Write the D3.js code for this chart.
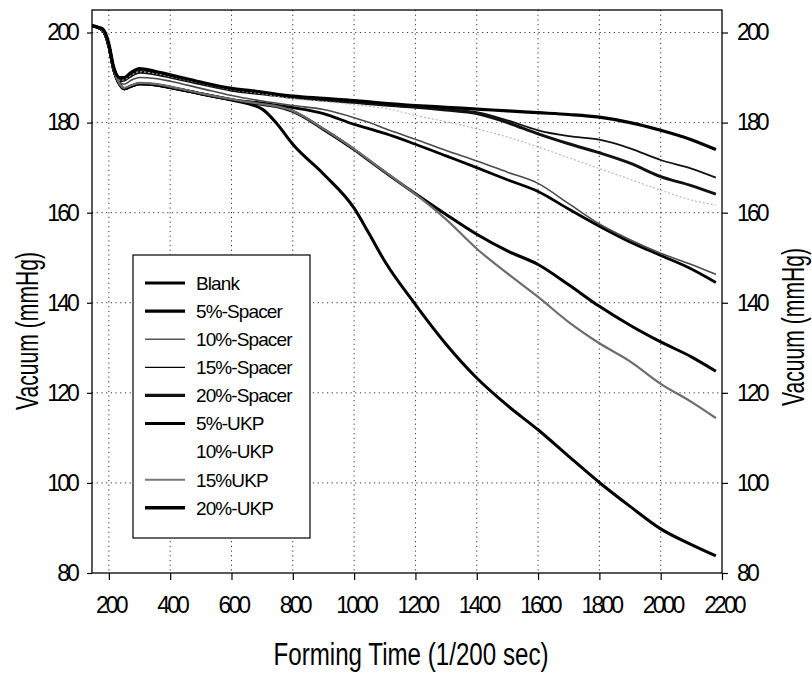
<!DOCTYPE html>
<html>
<head>
<meta charset="utf-8">
<script src="https://cdn.jsdelivr.net/npm/d3@7"></script>
<style>
    body { margin: 0; background: #fff; }
    svg { display: block; }
    .tick text { font-family: "Liberation Sans", Arial, sans-serif; font-size: 23px; letter-spacing: -2.9px; }
    .title { font-family: "Liberation Sans", Arial, sans-serif; font-size: 31px; }
    .legend text { font-family: "Liberation Sans", Arial, sans-serif; font-size: 19px; letter-spacing: -0.9px; }
</style>
</head>
<body>
<svg id="chart"></svg>
<script>
// forming time (1/200 sec)
const formingTime = [145, 180, 200, 215, 235, 250, 270, 300, 350, 400, 500, 600, 700, 750, 800,
                     900, 1000, 1050, 1100, 1200, 1300, 1400, 1500, 1600, 1700, 1800, 1900, 2000, 2100, 2180];

// vacuum (mmHg)
const blank      = [201.5, 200.5, 197, 192, 188.5, 187.5, 188, 188.6, 188.4, 187.8, 186.4, 185, 183, 179.6, 175.2,
                    168.6, 161, 155.2, 149.2, 139.6, 130.8, 123.3, 117.2, 111.8, 105.9, 100.1, 94.8, 89.8, 86.3, 83.8];
const spacer5    = [201.5, 200.5, 197, 192, 188.5, 187.5, 188, 188.6, 188.4, 187.8, 186.4, 185.1, 184.3, 183.8, 183.3,
                    182, 179.6, 178.6, 177.6, 175.2, 172.6, 170, 167.3, 164.7, 160.8, 157, 153.5, 150.5, 147.5, 144.5];
const spacer10   = [201.5, 200.5, 197, 192, 189, 188.5, 189.3, 190, 189.8, 189.2, 187.6, 186, 184.8, 184.3, 183.8,
                    182.9, 181.1, 180, 178.7, 176.3, 173.8, 171.5, 169, 166.5, 162, 157.5, 154, 151, 148.5, 146.3];
const spacer15   = [201.5, 200.5, 197, 192, 189.5, 189.6, 190.6, 191.5, 191, 190.3, 188.8, 187.4, 186.6, 186.2, 185.8,
                    185.2, 184.7, 184.4, 184.1, 183.6, 183, 182.3, 180.5, 178.3, 177, 176.2, 174.3, 171.7, 169.8, 167.8];
const spacer20   = [201.5, 200.5, 197, 192, 189.3, 189.4, 190.3, 191.2, 190.8, 190.1, 188.6, 187.2, 186.4, 186, 185.6,
                    185, 184.5, 184.2, 183.9, 183.4, 182.8, 182, 180, 177.5, 175.3, 173.3, 171, 168, 166, 164.1];
const ukp5       = [201.5, 200.5, 197, 192, 188.5, 187.5, 188, 188.6, 188.4, 187.8, 186.4, 185.1, 184, 183.5, 182.5,
                    178.5, 174, 171.5, 169, 164.2, 159.6, 155.2, 151.5, 148.5, 144, 139.2, 135, 131.3, 128, 124.8];
const ukp10      = [201.5, 200.5, 197, 192, 189.4, 189.5, 190.4, 191.3, 190.9, 190.2, 188.7, 187.3, 186.4, 185.8, 185.3,
                    184.7, 184, 183.6, 183.2, 181.6, 180.2, 178.6, 176.8, 174.6, 172.2, 169.8, 167.4, 165, 162.8, 161.7];
const ukp15      = [201.5, 200.5, 197, 192, 188.6, 187.7, 188.2, 188.8, 188.6, 188, 186.5, 185.2, 184.1, 183.6, 182.6,
                    178.6, 174.1, 171.6, 169.1, 164.1, 158.5, 152, 146.5, 141.3, 135.7, 131, 127, 122, 118, 114.4];
const ukp20      = [201.5, 200.8, 197.5, 192.5, 190, 190, 191, 192, 191.4, 190.6, 189, 187.6, 186.8, 186.3, 185.9,
                    185.4, 184.9, 184.6, 184.3, 183.8, 183.4, 183, 182.6, 182.2, 181.8, 181.2, 180, 178.3, 176.2, 174];

const seriesNames = ['Blank', '5%-Spacer', '10%-Spacer', '15%-Spacer', '20%-Spacer', '5%-UKP', '10%-UKP', '15%UKP', '20%-UKP'];
const seriesValues = [blank, spacer5, spacer10, spacer15, spacer20, ukp5, ukp10, ukp15, ukp20];

const xTicks = [200, 400, 600, 800, 1000, 1200, 1400, 1600, 1800, 2000, 2200];
const yTicks = [80, 100, 120, 140, 160, 180, 200];

// line looks, same order as seriesNames
const lineColor   = ['#000', '#000', '#4a4a4a', '#111', '#111', '#000', '#b4b4b4', '#6c6c6c', '#000'];
const lineWidth   = [3, 2.8, 1.6, 1.8, 3, 3, 1.1, 2.2, 3.2];
const lineDash    = [null, null, null, null, null, null, '2,2', null, null];
const legendColor = ['#000', '#000', '#555', '#000', '#111', '#000', 'none', '#777', '#000'];
const legendWidth = [3, 3.4, 1.6, 1.2, 3.4, 3, 0, 2, 3.6];

class VacuumChart {

    constructor( config ) {
        this.config = {
            parent: config.parent,
            width: config.width || 812,
            height: config.height || 673,
            margin: config.margin || {top: 10, right: 90, bottom: 100, left: 92}
        };
        this.init();
    }

    init() {
        let self = this;

        self.svg = d3.select( self.config.parent )
            .attr('width', self.config.width)
            .attr('height', self.config.height);

        self.inner_width = self.config.width - self.config.margin.left - self.config.margin.right;
        self.inner_height = self.config.height - self.config.margin.top - self.config.margin.bottom;

        self.chart = self.svg.append('g')
            .attr('transform', `translate(${self.config.margin.left}, ${self.config.margin.top})`);

        self.xscale = d3.scaleLinear()
            .domain( [145, 2200] )
            .range( [0, self.inner_width] );

        self.yscale = d3.scaleLinear()
            .domain( [80, 205] )
            .range( [self.inner_height, 0] );

        self.chart.append('clipPath')
            .attr('id', 'plot-clip')
            .append('rect')
            .attr('width', self.inner_width)
            .attr('height', self.inner_height);
    }

    render() {
        let self = this;
        const w = self.inner_width, h = self.inner_height;

        // dotted grid
        const grid = self.chart.append('g')
            .attr('stroke', '#333')
            .attr('stroke-width', 1)
            .attr('stroke-dasharray', '1.2,3.5');

        grid.selectAll('.vgrid')
            .data( xTicks.filter(d => d < 2200) )
            .join('line')
            .attr('x1', d => self.xscale(d))
            .attr('x2', d => self.xscale(d))
            .attr('y1', 0)
            .attr('y2', h);

        grid.selectAll('.hgrid')
            .data( yTicks.filter(d => d > 80) )
            .join('line')
            .attr('x1', 0)
            .attr('x2', w)
            .attr('y1', d => self.yscale(d))
            .attr('y2', d => self.yscale(d));

        // curves
        const line = d3.line()
            .x( (d, i) => self.xscale( formingTime[i] ) )
            .y( d => self.yscale( d ) )
            .curve( d3.curveMonotoneX );

        self.chart.append('g')
            .attr('clip-path', 'url(#plot-clip)')
            .selectAll('path')
            .data( seriesValues )
            .join('path')
            .attr('fill', 'none')
            .attr('stroke', (d, i) => lineColor[i])
            .attr('stroke-width', (d, i) => lineWidth[i])
            .attr('stroke-dasharray', (d, i) => lineDash[i])
            .attr('stroke-linejoin', 'round')
            .attr('d', line);

        // axes
        const fmt = d3.format('d');

        const xaxis = d3.axisBottom( self.xscale )
            .tickValues( xTicks )
            .tickFormat( fmt )
            .tickSize(7)
            .tickSizeOuter(0)
            .tickPadding(17);

        const yaxis = d3.axisLeft( self.yscale )
            .tickValues( yTicks )
            .tickFormat( fmt )
            .tickSize(5)
            .tickSizeOuter(0)
            .tickPadding(10);

        const yaxis_right = d3.axisRight( self.yscale )
            .tickValues( yTicks )
            .tickFormat( fmt )
            .tickSize(6)
            .tickSizeOuter(0)
            .tickPadding(9);

        self.chart.append('g')
            .attr('transform', `translate(0, ${h})`)
            .call( xaxis )
            .selectAll('.tick text')
            .attr('dx', '1.4px');

        self.chart.append('g')
            .call( yaxis );

        self.chart.append('g')
            .attr('transform', `translate(${w}, 0)`)
            .call( yaxis_right );

        self.chart.selectAll('.domain').remove();
        self.chart.selectAll('.tick line').attr('stroke', '#000').attr('stroke-width', 1.2);
        self.chart.selectAll('.tick text').attr('fill', '#000');

        self.chart.append('rect')
            .attr('width', w)
            .attr('height', h)
            .attr('fill', 'none')
            .attr('stroke', '#000')
            .attr('stroke-width', 1.3);

        // legend
        const legend = self.chart.append('g')
            .attr('class', 'legend')
            .attr('transform', `translate(${133 - self.config.margin.left}, ${255 - self.config.margin.top})`);

        legend.append('rect')
            .attr('width', 177)
            .attr('height', 283)
            .attr('fill', '#fff')
            .attr('stroke', '#000')
            .attr('stroke-width', 1.2);

        const item = legend.selectAll('.item')
            .data( seriesNames )
            .join('g')
            .attr('transform', (d, i) => `translate(0, ${28 + i * 28.1})`);

        item.append('line')
            .attr('x1', 12)
            .attr('x2', 52)
            .attr('stroke', (d, i) => legendColor[i])
            .attr('stroke-width', (d, i) => legendWidth[i]);

        item.append('text')
            .attr('x', 63)
            .attr('dy', '0.36em')
            .text( d => d );

        // axis titles
        self.svg.append('text')
            .attr('class', 'title')
            .attr('x', 411)
            .attr('y', 665)
            .attr('text-anchor', 'middle')
            .attr('textLength', 275)
            .attr('lengthAdjust', 'spacingAndGlyphs')
            .text('Forming Time (1/200 sec)');

        self.svg.append('text')
            .attr('class', 'title')
            .attr('transform', 'translate(38, 331) rotate(-90)')
            .attr('text-anchor', 'middle')
            .attr('textLength', 158)
            .attr('lengthAdjust', 'spacingAndGlyphs')
            .text('Vacuum (mmHg)');

        self.svg.append('text')
            .attr('class', 'title')
            .attr('transform', 'translate(804, 327) rotate(-90)')
            .attr('text-anchor', 'middle')
            .attr('textLength', 158)
            .attr('lengthAdjust', 'spacingAndGlyphs')
            .text('Vacuum (mmHg)');
    }
}

const chart = new VacuumChart({ parent: '#chart', width: 812, height: 673 });
chart.render();
</script>
</body>
</html>
